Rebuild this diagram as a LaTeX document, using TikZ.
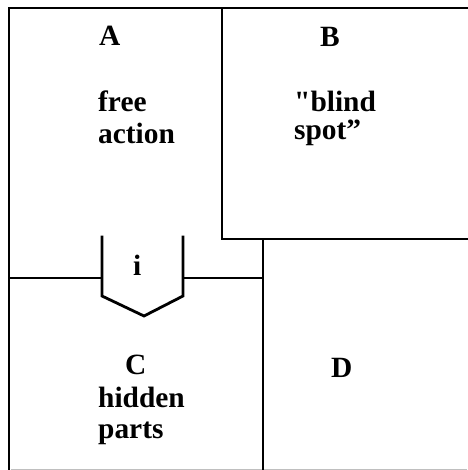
\documentclass[tikz,border=0pt]{standalone}
\usepackage{fontspec}
\setmainfont{Liberation Serif}
\begin{document}
\begin{tikzpicture}[x=1pt,y=-1pt,
  wall/.style={line width=2.8pt,line cap=rect,line join=miter},
  lbl/.style={anchor=base west,inner sep=0pt,font=\fontsize{29.4}{32}\selectfont\bfseries}]
\useasboundingbox (0,0) rectangle (467,470);
\fill[white] (0,0) rectangle (467,470);
% outer frame (top and left), faint lower edge
\draw[wall] (467,8) -- (9,8) -- (9,469);
\draw[line width=1pt,black!25] (11,469) -- (467,469);
% region B
\draw[wall] (222,8) -- (222,239) -- (467,239);
% border between C and D
\draw[wall] (263,239) -- (263,469);
% border between A and C, interrupted by the gate i
\draw[wall] (9,278) -- (102,278);
\draw[wall] (183,278) -- (263,278);
% gate i pointing down into C
\coordinate (gl) at (102,237);
\coordinate (gr) at (183,237);
\coordinate (gp) at (144,316);
\draw[wall] (gl) -- (102,296) -- (gp) -- (183,296) -- (gr);
% labels
\node[lbl] (a) at (99,46) {A};
\node[lbl] (a1) at (98,112) {free};
\node[lbl] (a2) at (98,144) {action};
\node[lbl] (b) at (320,47) {B};
\node[lbl] (b1) at (294,112) {\textquotedbl blind};
\node[lbl] (b2) at (294,140) {spot”};
\node[lbl] (i) at (133,275) {i};
\node[lbl] (c) at (125,374) {C};
\node[lbl] (c1) at (98,407) {hidden};
\node[lbl] (c2) at (98,438) {parts};
\node[lbl] (d) at (331,377) {D};
\end{tikzpicture}
\end{document}
